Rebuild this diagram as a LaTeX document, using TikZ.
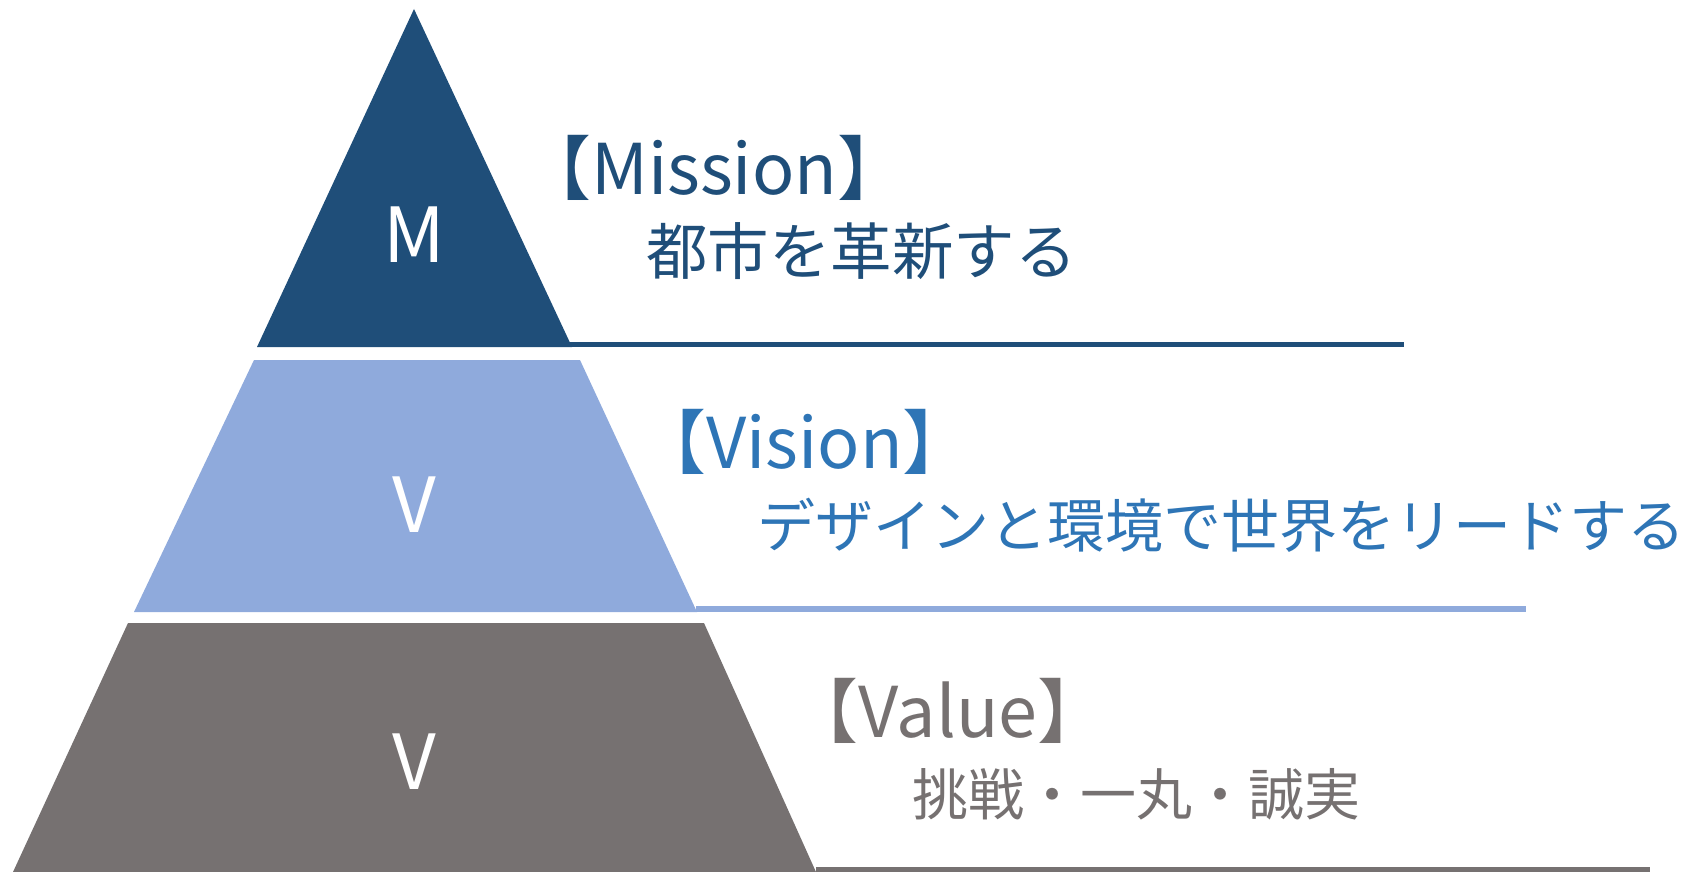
\documentclass[tikz,border=0pt]{standalone}
\usepackage{fontspec}
\setmainfont{Noto Sans CJK JP}
\usetikzlibrary{positioning}
\definecolor{missionblue}{HTML}{1F4E79}
\definecolor{visionfill}{HTML}{8FAADC}
\definecolor{visionblue}{HTML}{2E75B6}
\definecolor{valuegray}{HTML}{767171}

\begin{document}
\begin{tikzpicture}[x=1pt,y=-1pt,
  tierlabel/.style={text=white,inner sep=0pt,font=\fontsize{76}{80}\selectfont},
  headtext/.style={anchor=west,inner sep=0pt,font=\fontsize{70}{76}\selectfont},
  bodytext/.style={anchor=west,inner sep=0pt,font=\fontsize{#1}{64}\selectfont},
  bodytext/.default=58]
  \useasboundingbox (0,0) rectangle (1691,872);
  % pyramid tiers
  \fill[missionblue] (414,9) -- (572,347) -- (257,347) -- cycle;
  \fill[visionfill] (254,360) -- (580,360) -- (697,612) -- (134,612) -- cycle;
  \fill[valuegray] (128,623) -- (704,623) -- (816,872) -- (13,872) -- cycle;
  % rules under the texts
  \fill[missionblue] (569,342) rectangle (1404,347);
  \fill[visionfill] (696,606) rectangle (1526,612);
  \fill[valuegray] (816,867) rectangle (1650,872);
  % letters in the tiers
  \node[tierlabel] (mletter) at (414,235) {M};
  \node[tierlabel] (vletter) at (414,505) {V};
  \node[tierlabel] (vaLetter) at (414,762) {V};
  % texts
  \node[headtext,text=missionblue] (mhead) at (521,168) {【Mission】};
  \node[bodytext=61.5,text=missionblue] (mbody) at (646,251) {都市を革新する};
  \node[headtext,text=visionblue] (vhead) at (636,442) {【Vision】};
  \node[bodytext,text=visionblue] (vbody) at (757,525) {デザインと環境で世界をリードする};
  \node[headtext,text=valuegray] (vahead) at (788,711) {【Value】};
  \node[bodytext=56,text=valuegray] (vabody) at (912,794) {挑戦・一丸・誠実};
\end{tikzpicture}
\end{document}
